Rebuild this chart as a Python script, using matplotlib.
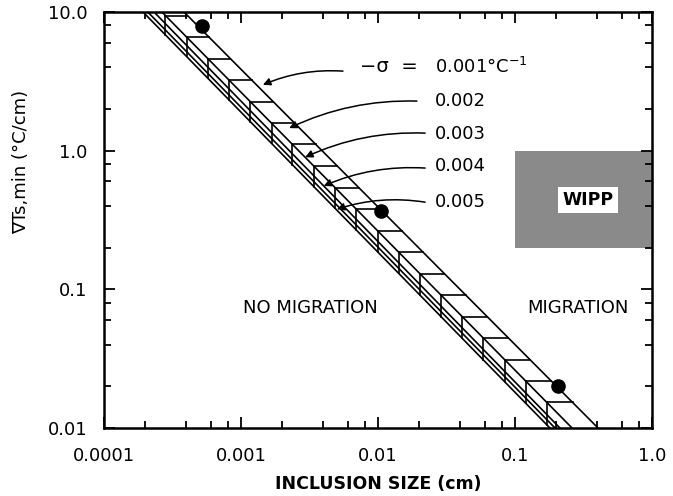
import numpy as np
import matplotlib
matplotlib.use("Agg")
from matplotlib import pyplot as plt
from matplotlib.ticker import LogLocator, NullFormatter

plt.rcParams['font.family'] = ['DejaVu Sans']
plt.rcParams['mathtext.default'] = 'regular'

# values
sigma_labels = ["0.001", "0.002", "0.003", "0.004", "0.005"]
# where each sigma line crosses y = 10 and y = 0.01
x_at_top = [3.84e-4, 2.65e-4, 2.32e-4, 2.09e-4, 1.93e-4]
x_at_bottom = [0.404, 0.261, 0.213, 0.196, 0.180]
# y of the staircase corners (corners sit on the 0.002 line)
step_y = [9.44, 6.61, 4.62, 3.24, 2.26, 1.58, 1.11, 0.775, 0.542, 0.379,
          0.265, 0.186, 0.130, 0.091, 0.0637, 0.0446, 0.0312, 0.0218, 0.0153]
points_x = [0.00052, 0.0105, 0.205]
points_y = [7.9, 0.37, 0.02]
wipp_x = [0.1, 1.0]
wipp_y = [0.2, 1.0]
xticks = [1e-4, 1e-3, 1e-2, 1e-1, 1.0]
xticklabels = ["0.0001", "0.001", "0.01", "0.1", "1.0"]
yticks = [0.01, 0.1, 1.0, 10.0]
yticklabels = ["0.01", "0.1", "1.0", "10.0"]


def x_on(i, y):
    lt, lb = np.log10(x_at_top[i]), np.log10(x_at_bottom[i])
    return 10 ** (lt + (1 - np.log10(y)) / 3 * (lb - lt))


def y_on(i, x):
    lt, lb = np.log10(x_at_top[i]), np.log10(x_at_bottom[i])
    return 10 ** (1 - 3 * (np.log10(x) - lt) / (lb - lt))


fig = plt.figure(figsize=(6.73, 4.96), dpi=100)
ax = fig.add_axes([0.1545, 0.137, 0.8143, 0.8387])
ax.set_xscale('log')
ax.set_yscale('log')
ax.set_xlim(1e-4, 1.0)
ax.set_ylim(0.01, 10.0)

lw = 1.2
for i in range(5):
    ax.plot([x_at_top[i], x_at_bottom[i]], [10.0, 0.01], color='black', lw=lw)

for y in step_y:
    xc = x_on(1, y)
    ax.plot([xc, x_on(0, y)], [y, y], color='black', lw=lw)
    ax.plot([xc, xc], [y, y_on(4, xc)], color='black', lw=lw)

ax.plot(points_x, points_y, 'o', color='black', ms=9.5)

ax.fill_between(wipp_x, wipp_y[0], wipp_y[1], color='#8a8a8a', lw=0)
ax.text(0.34, 0.44, "WIPP", fontsize=12.5, fontweight='bold', ha='center', va='center',
        bbox=dict(facecolor='white', edgecolor='none', pad=3))

fs = 13
ax.text(0.0032, 0.073, "NO MIGRATION", fontsize=fs, ha='center', va='center')
ax.text(0.286, 0.073, "MIGRATION", fontsize=fs, ha='center', va='center')

# sigma labels and arrows
ax.text(0.467, 0.868, "\u2212\u03c3  =", fontsize=fs + 1, transform=ax.transAxes, va='center')
ax.text(0.604, 0.868, sigma_labels[0] + "\u00b0C$^{-1}$", fontsize=fs,
        transform=ax.transAxes, va='center')
label_y = [0.786, 0.707, 0.629, 0.543]
for lab, ly in zip(sigma_labels[1:], label_y):
    ax.text(0.604, ly, lab, fontsize=fs, transform=ax.transAxes, va='center')

arrow_start = [(0.436, 0.858), (0.571, 0.786), (0.586, 0.709), (0.586, 0.625), (0.586, 0.543)]
arrow_end = [(0.290, 0.825), (0.338, 0.721), (0.367, 0.651), (0.401, 0.582), (0.425, 0.526)]
for s, e in zip(arrow_start, arrow_end):
    ax.annotate("", xy=e, xytext=s, xycoords='axes fraction', textcoords='axes fraction',
                arrowprops=dict(arrowstyle='-|>', connectionstyle='arc3,rad=0.12',
                                color='black', lw=1.1, mutation_scale=11,
                                shrinkA=0, shrinkB=0))

ax.set_xticks(xticks)
ax.set_xticklabels(xticklabels, fontsize=fs)
ax.set_yticks(yticks)
ax.set_yticklabels(yticklabels, fontsize=fs)
ax.xaxis.set_minor_locator(LogLocator(base=10, subs=[2, 4, 6, 8]))
ax.yaxis.set_minor_locator(LogLocator(base=10, subs=[2, 4, 6, 8]))
ax.xaxis.set_minor_formatter(NullFormatter())
ax.yaxis.set_minor_formatter(NullFormatter())
ax.tick_params(which='both', direction='in', top=True, right=True, width=1.3)
ax.tick_params(which='major', length=8)
ax.tick_params(which='minor', length=5)
ax.tick_params(axis='x', which='major', pad=14)
ax.tick_params(axis='y', which='major', pad=12)
for sp in ax.spines.values():
    sp.set_linewidth(1.8)

ax.set_xlabel("INCLUSION SIZE (cm)", fontsize=12.5, fontweight='bold', labelpad=7)
ax.set_ylabel("\u2207Ts,min (\u00b0C/cm)", fontsize=fs)
ax.yaxis.set_label_coords(-0.135, 0.64)

fig.savefig("out.png", dpi=100)
